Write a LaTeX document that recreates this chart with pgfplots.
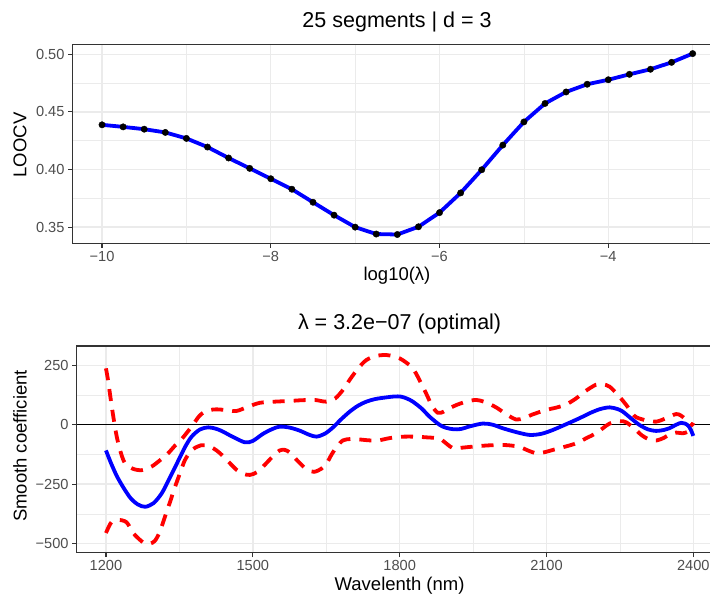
\documentclass[border=0pt]{standalone}
\usepackage{fontspec}
\setmainfont{Liberation Sans}
\usepackage{pgfplots}
\pgfplotsset{compat=1.18}
\definecolor{grey20}{HTML}{333333}
\definecolor{grey30}{HTML}{4D4D4D}
\definecolor{grey92}{HTML}{EBEBEB}

\pgfplotsset{
  ggbw/.style={
    scale only axis,
    axis line style={grey20, line width=1.1bp},
    tick style={grey20, line width=1.1bp},
    tick align=outside, major tick length=4.5bp, minor tick length=0pt,
    xtick pos=bottom, ytick pos=left,
    grid=both,
    major grid style={grey92, line width=1.4bp},
    minor grid style={grey92, line width=0.7bp},
    tick label style={font=\fontsize{14.6bp}{16bp}\selectfont, text=grey30},
  }
}

% LOOCV against log10(lambda)
\pgfplotstableread{
x y
-10.00 0.4388
-9.75 0.4370
-9.50 0.4350
-9.25 0.4322
-9.00 0.4270
-8.75 0.4195
-8.50 0.4100
-8.25 0.4010
-8.00 0.3920
-7.75 0.3829
-7.50 0.3716
-7.25 0.3604
-7.00 0.3500
-6.75 0.3440
-6.50 0.3436
-6.25 0.3503
-6.00 0.3626
-5.75 0.3797
-5.50 0.3998
-5.25 0.4212
-5.00 0.4413
-4.75 0.4573
-4.50 0.4673
-4.25 0.4740
-4.00 0.4779
-3.75 0.4826
-3.50 0.4870
-3.25 0.4930
-3.00 0.5006
}\loocv

\begin{document}
\begin{tikzpicture}
% top panel
\begin{axis}[ggbw,
  at={(72.5bp,356.5bp)}, anchor=south west,
  width=649.7bp, height=199bp,
  xmin=-10.35, xmax=-2.65, ymin=0.3358, ymax=0.5085,
  xtick={-10,-8,-6,-4}, xticklabels={−10,−8,−6,−4},
  minor xtick={-9,-7,-5,-3},
  ytick={0.35,0.40,0.45,0.50}, yticklabels={0.35,0.40,0.45,0.50},
  minor ytick={0.375,0.425,0.475},
]
  \addplot[only marks, mark=*, mark size=3.2bp, black] table[x=x,y=y] {\loocv};
  \addplot[blue, line width=3.8bp] table[x=x,y=y] {\loocv};
\end{axis}

% bottom panel
\begin{axis}[ggbw,
  at={(76.6bp,47.3bp)}, anchor=south west,
  width=646.1bp, height=206.7bp,
  xmin=1140, xmax=2460, ymin=-538, ymax=331,
  xtick={1200,1500,1800,2100,2400},
  xticklabels={1200,1500,1800,2100,2400},
  minor xtick={1350,1650,1950,2250},
  ytick={-500,-250,0,250}, yticklabels={−500,−250,0,250},
  minor ytick={-375,-125,125},
]
  \addplot[black, line width=1.1bp] coordinates {(1140,0) (2460,0)};
  % coefficient curve
  \addplot[blue, line width=3.8bp, smooth] coordinates {
    (1200,-108) (1210,-160) (1222,-215) (1235,-262) (1250,-308) (1265,-335)
    (1280,-345) (1297,-330) (1314,-288) (1330,-225) (1348,-150) (1362,-92)
    (1375,-50) (1392,-20) (1409,-11) (1425,-17) (1439,-29) (1460,-52)
    (1484,-74) (1500,-68) (1521,-38) (1540,-18) (1555,-8) (1575,-12)
    (1596,-25) (1615,-42) (1630,-50) (1647,-38) (1664,-11) (1680,22)
    (1698,55) (1715,80) (1732,97) (1750,108) (1773,115) (1790,119)
    (1803,118) (1815,110) (1827,97) (1845,68) (1861,34) (1882,-1)
    (1895,-13) (1910,-19) (1925,-18) (1945,-6) (1970,5) (1990,0)
    (2011,-15) (2040,-32) (2066,-43) (2090,-38) (2113,-22) (2140,2)
    (2167,27) (2190,50) (2210,66) (2229,73) (2245,66) (2256,55)
    (2272,28) (2290,-1) (2308,-20) (2324,-26) (2340,-22) (2351,-15)
    (2365,0) (2375,8) (2383,5) (2390,-5) (2395,-22) (2400,-47)};
  % upper band
  \addplot[red, line width=3.8bp, smooth, dash pattern=on 12bp off 9bp] coordinates {
    (1200,237) (1204,190) (1208,132) (1215,34) (1222,-50) (1230,-115)
    (1239,-162) (1255,-185) (1273,-191) (1293,-176) (1310,-150) (1327,-120)
    (1341,-88) (1354,-62) (1375,-8) (1390,35) (1402,55) (1419,64)
    (1433,64) (1450,60) (1467,58) (1490,75) (1514,92) (1545,97)
    (1576,100) (1600,103) (1627,104) (1650,97) (1668,110) (1684,146)
    (1700,195) (1718,244) (1732,272) (1746,286) (1760,292) (1773,293)
    (1787,288) (1800,279) (1813,262) (1827,237) (1840,190) (1854,132)
    (1866,80) (1878,50) (1890,55) (1903,70) (1916,83) (1936,97)
    (1956,104) (1975,95) (1997,73) (2018,44) (2038,22) (2055,28)
    (2070,42) (2099,62) (2120,72) (2140,85) (2160,110) (2180,142)
    (2201,168) (2215,170) (2229,160) (2246,125) (2263,83) (2275,48)
    (2283,32) (2300,20) (2324,13) (2345,28) (2365,45) (2375,38)
    (2385,22) (2392,10) (2400,-5)};
  % lower band
  \addplot[red, line width=3.8bp, smooth, dash pattern=on 12bp off 9bp] coordinates {
    (1200,-455) (1206,-428) (1212,-408) (1225,-400) (1242,-410) (1256,-456)
    (1270,-485) (1280,-500) (1290,-500) (1300,-488) (1310,-450) (1320,-390)
    (1330,-330) (1341,-262) (1351,-205) (1361,-150) (1372,-115) (1382,-97)
    (1395,-86) (1405,-86) (1420,-100) (1433,-120) (1450,-155) (1467,-190)
    (1480,-206) (1494,-211) (1508,-200) (1521,-176) (1540,-135) (1555,-108)
    (1566,-106) (1576,-118) (1593,-155) (1610,-188) (1625,-198) (1640,-185)
    (1651,-162) (1661,-125) (1672,-92) (1684,-66) (1700,-60) (1718,-62)
    (1740,-66) (1759,-65) (1775,-58) (1793,-52) (1810,-50) (1827,-50)
    (1841,-51) (1854,-53) (1870,-55) (1882,-58) (1896,-80) (1909,-99)
    (1925,-97) (1950,-92) (1980,-87) (2011,-85) (2030,-88) (2045,-93)
    (2062,-108) (2079,-120) (2095,-116) (2113,-106) (2135,-94) (2161,-78)
    (2180,-58) (2201,-36) (2215,-15) (2229,5) (2250,15) (2263,10)
    (2280,-17) (2295,-45) (2310,-62) (2325,-66) (2340,-55) (2352,-40)
    (2365,-33) (2378,-36) (2388,-30) (2394,-15) (2400,8)};
\end{axis}

% titles and axis titles
\node[anchor=base, font=\fontsize{21.5bp}{24bp}\selectfont] at (397bp,572bp) {25 segments | d = 3};
\node[anchor=base, font=\fontsize{21.5bp}{24bp}\selectfont] at (399.6bp,270bp) {λ = 3.2e−07 (optimal)};
\node[anchor=base, font=\fontsize{18.5bp}{21bp}\selectfont] at (397bp,319bp) {log10(λ)};
\node[anchor=base, font=\fontsize{18.5bp}{21bp}\selectfont] at (399.6bp,10bp) {Wavelenth (nm)};
\node[rotate=90, font=\fontsize{18.5bp}{21bp}\selectfont] at (20bp,455bp) {LOOCV};
\node[rotate=90, font=\fontsize{18.5bp}{21bp}\selectfont] at (20bp,154bp) {Smooth coefficient};

\pgfresetboundingbox
\useasboundingbox (0,0) rectangle (710bp,600bp);
\end{tikzpicture}
\end{document}
